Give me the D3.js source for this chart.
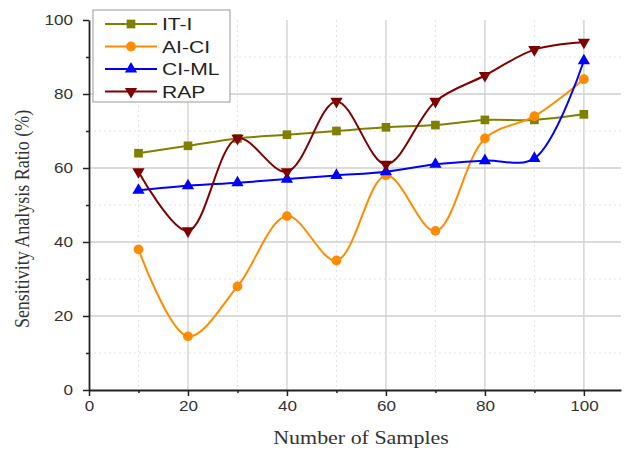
<!DOCTYPE html>
<html>
<head>
<meta charset="utf-8">
<script src="https://cdn.jsdelivr.net/npm/d3@7"></script>
<style>
  body { margin: 0; background: #fff; }
  svg { display: block; }
</style>
</head>
<body>
<script>
// Data
const samples = [10, 20, 30, 40, 50, 60, 70, 80, 90, 100];
const itI = [64, 66, 68, 69, 70, 71, 71.6, 73, 73, 74.5];
const aiCi = [38, 14.5, 28, 47, 35, 58, 43, 68, 74, 84];
const ciMl = [54, 55.2, 56, 57, 58, 59, 61, 62, 62.6, 89];
const rap = [59, 43, 68, 59, 78, 61, 78, 85, 92, 94];
const xTicks = [0, 20, 40, 60, 80, 100];
const yTicks = [0, 20, 40, 60, 80, 100];

const series = [
    { name: "IT-I", values: itI, color: "#808000", symbol: d3.symbolSquare, size: 75, rot: 0 },
    { name: "AI-CI", values: aiCi, color: "#ff8c00", symbol: d3.symbolCircle, size: 75, rot: 0 },
    { name: "CI-ML", values: ciMl, color: "#0000ff", symbol: d3.symbolTriangle, size: 65, rot: 0 },
    { name: "RAP", values: rap, color: "#800000", symbol: d3.symbolTriangle, size: 65, rot: 180 }
];

const width = 625, height = 450;
const plotLeft = 89, plotBottom = 390, plotTop = 20;
const stretch = 1.22; // the reference text looks widened

const svg = d3.select("body").append("svg")
    .attr("width", width)
    .attr("height", height);

const x = d3.scaleLinear().domain([0, 107.5]).range([plotLeft, 621]);
const y = d3.scaleLinear().domain([0, 100]).range([plotBottom, plotTop]);

// grid lines: solid for majors, dotted for minors
const minors = d3.range(10, 101, 20);
const grid = svg.append("g");
grid.selectAll(".vmaj").data([20, 40, 60, 80, 100]).enter().append("line")
    .attr("x1", d => x(d)).attr("x2", d => x(d))
    .attr("y1", plotTop).attr("y2", plotBottom)
    .style("stroke", "#cfcfcf").style("stroke-width", 1.3);
grid.selectAll(".vmin").data(minors).enter().append("line")
    .attr("x1", d => x(d)).attr("x2", d => x(d))
    .attr("y1", plotTop).attr("y2", plotBottom)
    .style("stroke", "#e2e2e2").style("stroke-dasharray", "2,3");
grid.selectAll(".hmaj").data([20, 40, 60, 80]).enter().append("line")
    .attr("x1", plotLeft).attr("x2", x(107.5))
    .attr("y1", d => y(d)).attr("y2", d => y(d))
    .style("stroke", "#cfcfcf").style("stroke-width", 1.3);
grid.selectAll(".hmin").data([10, 30, 50, 70, 90]).enter().append("line")
    .attr("x1", plotLeft).attr("x2", x(107.5))
    .attr("y1", d => y(d)).attr("y2", d => y(d))
    .style("stroke", "#e2e2e2").style("stroke-dasharray", "2,3");

// axes
const xAxisG = svg.append("g")
    .attr("transform", "translate(0," + plotBottom + ")")
    .call(d3.axisBottom(x).tickValues(xTicks).tickSize(6).tickPadding(5).tickSizeOuter(0));
svg.append("g")
    .attr("transform", "translate(0," + plotBottom + ")")
    .call(d3.axisBottom(x).tickValues(minors).tickSize(3).tickFormat("").tickSizeOuter(0))
    .select(".domain").remove();
const yAxisG = svg.append("g")
    .attr("transform", "translate(" + plotLeft + ",0)")
    .call(d3.axisLeft(y).tickValues(yTicks).tickSize(6).tickPadding(4).tickSizeOuter(0));
svg.append("g")
    .attr("transform", "translate(" + plotLeft + ",0)")
    .call(d3.axisLeft(y).tickValues(minors).tickSize(3).tickFormat("").tickSizeOuter(0))
    .select(".domain").remove();

svg.selectAll(".domain").style("stroke", "#222").style("stroke-width", 1.8);
svg.selectAll(".tick line").style("stroke", "#222").style("stroke-width", 1.5);
svg.selectAll(".tick text")
    .style("font-family", "'Liberation Sans', Arial, sans-serif")
    .style("font-size", "14px")
    .style("fill", "#333");
xAxisG.selectAll(".tick text").attr("transform", "scale(" + stretch + ",1)");
yAxisG.selectAll(".tick text")
    .attr("x", 0)
    .attr("transform", "translate(-16,0) scale(" + stretch + ",1)");

// axis titles
svg.append("text")
    .attr("transform", "translate(361,444) scale(" + stretch + ",1)")
    .attr("text-anchor", "middle")
    .style("font-family", "'Liberation Serif', 'Times New Roman', serif")
    .style("font-size", "18px")
    .style("fill", "#333")
    .text("Number of Samples");
svg.append("text")
    .attr("transform", "translate(29,219) rotate(-90) scale(1,1.15)")
    .attr("text-anchor", "middle")
    .style("font-family", "'Liberation Serif', 'Times New Roman', serif")
    .style("font-size", "18px")
    .style("fill", "#333")
    .text("Sensitivity Analysis Ratio (%)");

// lines and markers
const line = d3.line()
    .x(d => x(d[0]))
    .y(d => y(d[1]))
    .curve(d3.curveCatmullRom.alpha(0.5));

series.forEach(function (s) {
    const pts = samples.map((v, i) => [v, s.values[i]]);
    svg.append("path")
        .datum(pts)
        .attr("d", line)
        .style("fill", "none")
        .style("stroke", s.color)
        .style("stroke-width", 2);
    svg.selectAll(null).data(pts).enter().append("path")
        .attr("d", d3.symbol().type(s.symbol).size(s.size))
        .attr("transform", d => "translate(" + x(d[0]) + "," + y(d[1]) + ") rotate(" + s.rot + ")")
        .style("fill", s.color);
});

// legend
const legend = svg.append("g");
legend.append("rect")
    .attr("x", 93).attr("y", 10)
    .attr("width", 137).attr("height", 92)
    .style("fill", "#fff")
    .style("stroke", "#aaa")
    .style("stroke-width", 1.2);
series.forEach(function (s, i) {
    const ly = 24 + i * 22.5;
    legend.append("line")
        .attr("x1", 105).attr("x2", 157)
        .attr("y1", ly).attr("y2", ly)
        .style("stroke", s.color)
        .style("stroke-width", 2);
    legend.append("path")
        .attr("d", d3.symbol().type(s.symbol).size(s.size))
        .attr("transform", "translate(131," + ly + ") rotate(" + s.rot + ")")
        .style("fill", s.color);
    legend.append("text")
        .attr("transform", "translate(162," + (ly + 6) + ") scale(1.32,1)")
        .style("font-family", "'Liberation Sans', Arial, sans-serif")
        .style("font-size", "16px")
        .style("fill", "#222")
        .text(s.name);
});
</script>
</body>
</html>
